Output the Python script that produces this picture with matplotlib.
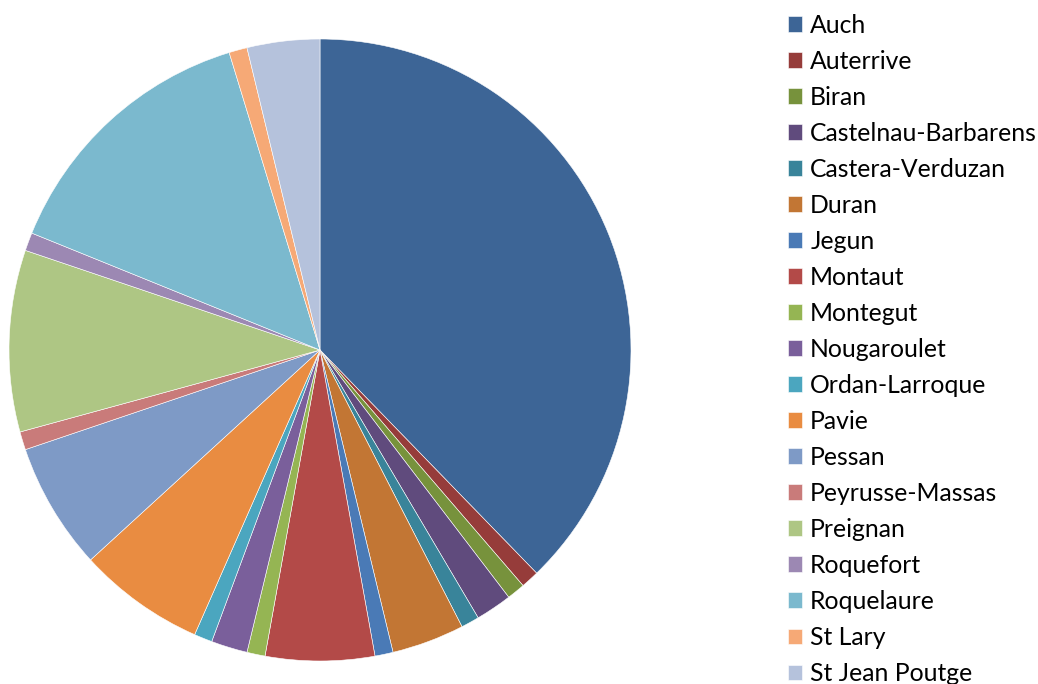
import matplotlib.pyplot as plt

communes = ["Auch", "Auterrive", "Biran", "Castelnau-Barbarens", "Castera-Verduzan",
            "Duran", "Jegun", "Montaut", "Montegut", "Nougaroulet", "Ordan-Larroque",
            "Pavie", "Pessan", "Peyrusse-Massas", "Preignan", "Roquefort",
            "Roquelaure", "St Lary", "St Jean Poutge"]
counts = [40, 1, 1, 2, 1, 4, 1, 6, 1, 2, 1, 7, 7, 1, 10, 1, 15, 1, 4]

colors = ["#3D6596", "#963C3A", "#77923C", "#604B7D", "#39849A", "#C27634",
          "#4A7AB6", "#B34A48", "#95B553", "#7A5F9B", "#4BA6BF", "#E98C41",
          "#7E9AC6", "#C97B7A", "#AEC684", "#9C88B3", "#7BB9CE", "#F6A976",
          "#B5C2DC"]

W, H = 1038, 684
fig = plt.figure(figsize=(W / 100, H / 100), dpi=100)
# pie centred at (320, 350) px with radius 311 px
ax = fig.add_axes([9 / W, 23 / H, 622 / W, 622 / H])
wedges, _ = ax.pie(counts, colors=colors, startangle=90, counterclock=False,
                   radius=1.0, wedgeprops=dict(edgecolor="white", linewidth=0.4))
ax.set_xlim(-1, 1)
ax.set_ylim(-1, 1)
ax.set_aspect("equal")

# legend runs past the bottom edge, as in the original
fig.legend(wedges, communes, loc="upper left",
           bbox_to_anchor=(787.5 / W, 1 - 14 / H), frameon=False,
           prop=dict(family="Lato", size=17.8),
           handlelength=0.6, handleheight=0.6, handletextpad=0.32,
           labelspacing=0.526, borderpad=0, borderaxespad=0)

fig.savefig("out.png", dpi=100)
